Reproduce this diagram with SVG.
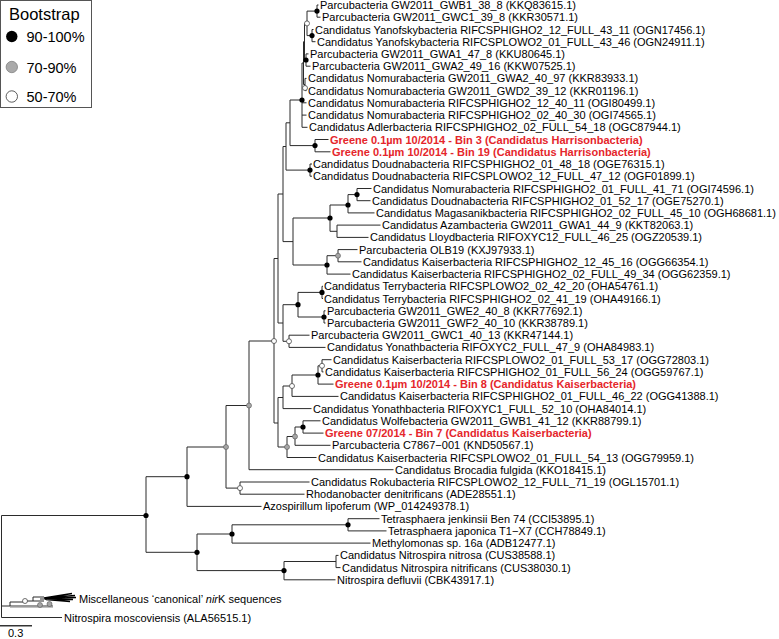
<svg xmlns="http://www.w3.org/2000/svg" width="779" height="639" viewBox="0 0 779 639">
<style>
.t{font-family:"Liberation Sans",Arial,sans-serif;font-size:11px;fill:#000}
.r{font-family:"Liberation Sans",Arial,sans-serif;font-size:11px;font-weight:bold;fill:#e5262b}
.e{fill:none;stroke:#2b2b2b;stroke-width:1}
.b{fill:#000}
.g{fill:#a6a6a6;stroke:#555;stroke-width:0.6}
.o{fill:#fff;stroke:#333;stroke-width:0.7}
.lg{font-family:"Liberation Sans",Arial,sans-serif;fill:#000}
</style>
<rect x="0.5" y="0.5" width="91" height="107" fill="#fff" stroke="#555" stroke-width="1"/>
<g id="legend">
<text class="lg" x="9" y="20" font-size="16.5">Bootstrap</text>
<circle cx="11.8" cy="36.5" r="5.7" fill="#000"/>
<text class="lg" x="26.5" y="42" font-size="14.5">90-100%</text>
<circle cx="11.8" cy="67" r="5.7" fill="#aaa" stroke="#777" stroke-width="0.7"/>
<text class="lg" x="26.5" y="72.5" font-size="14.5">70-90%</text>
<circle cx="11.8" cy="96.5" r="5.7" fill="#fff" stroke="#333" stroke-width="0.8"/>
<text class="lg" x="26.5" y="102" font-size="14.5">50-70%</text>
</g>
<g id="connectors">
<path class="e" d="M317 5V17.2M317 5H318.5M317 17.2H320.5
M312 29.5V41.7M312 29.5H313.5M312 41.7H315.5
M307 11.1V35.6M307 11.1H317M307 35.6H312
M306 53.9V66.2M306 53.9H308.5M306 66.2H310.5
M304.5 23.4V60M304.5 23.4H307M304.5 60H306
M305 78.4V90.6M305 78.4H306.5M305 90.6H306.5
M303.5 41.7V84.5M303.5 41.7H304.5M303.5 84.5H305
M302 63V127.3M302 63H303.5M302 102.8H306.5M302 115.1H306.5M302 127.3H307.5
M290 100V145.6M290 100H302M290 145.6H315
M315 139.5V151.8M315 139.5H328.5M315 151.8H330.5
M310 164V176.2M310 164H312M310 176.2H312
M286 122.8V170.1M286 122.8H290M286 170.1H310
M283 146.5V241.6M283 146.5H286M283 241.6H293
M293 218V265M293 218H330M293 265H327
M330 205V231.3M330 205H348M330 231.3H337
M348 194.6V212.9M348 194.6H357M348 212.9H374.5
M357 188.5V200.7M357 188.5H371.5M357 200.7H370.5
M337 225.1V237.4M337 225.1H380.5M337 237.4H368.5
M327 255.7V274.1M327 255.7H338M327 274.1H350.5
M338 249.6V261.8M338 249.6H357.5M338 261.8H361.5
M322 286.3V298.5M322 286.3H323M322 298.5H323
M324 310.8V323M324 310.8H325.5M324 323H325.5
M298 292.4V317M298 292.4H322M298 317H324
M289 335.2V347.4M289 335.2H309.5M289 347.4H325.5
M283 304.7V341.3M283 304.7H298M283 341.3H289
M278 194V323M278 194H283M278 323H283
M274 258.5V423M274 258.5H278M274 423H278
M278 397.5V447M278 397.5H283M278 447H287
M283 386V408.6M283 386H292M283 408.6H311.5
M292 375V396.4M292 375H318M292 396.4H338.5
M318 365.8V384.1M318 365.8H322M318 384.1H333.5
M322 359.7V371.9M322 359.7H331.5M322 371.9H323.5
M287 436.5V457.5M287 436.5H295M287 457.5H316.5
M295 427V445.3M295 427H303M295 445.3H330.5
M303 420.8V433.1M303 420.8H320.5M303 433.1H323.5
M249 341V469.7M249 341H274M249 469.7H393.5
M240 482V494.2M240 482H309.5M240 494.2H304.5
M226 405.5V488.1M226 405.5H249M226 488.1H240
M187 447V506.4M187 447H226M187 506.4H261.5
M348 518.7V530.9M348 518.7H379.5M348 530.9H386.5
M232 524.8V543.1M232 524.8H348M232 543.1H370.5
M336 555.4V567.6M336 555.4H338.5M336 567.6H340.5
M284 561.5V579.8M284 561.5H336M284 579.8H335.5
M197 534V570.6M197 534H232M197 570.6H284
M146 476.7V552.3M146 476.7H187M146 552.3H197
M1.5 515.5V617.5M1.5 515.5H146M1.5 606H10M1.5 617.5H62"/>
<path d="M0 625.8H32" stroke="#000" stroke-width="1.2"/>
</g>
<g id="nirK-clade">
<rect x="10" y="605" width="43" height="2.6" fill="#999"/>
<path class="e" d="M10 606V602H25M25 601H33M33 597V601M33 597H44M33 601H44M40 599H47"/>
<path d="M44 598L72 593.5M44 598L75 595.5M45 598.5L76 597.5M45 599L73 599.5M46 599.5L70 601.5" stroke="#000" stroke-width="1.3" fill="none"/>
<circle class="o" cx="25" cy="601" r="2.5"/>
<circle class="g" cx="40" cy="605" r="2.5"/>
<circle class="g" cx="49.5" cy="604" r="2.5"/>
</g>
<g id="internal-nodes">
<circle class="b" cx="317" cy="11.1" r="2.6"/>
<circle class="b" cx="312" cy="35.6" r="2.6"/>
<circle class="o" cx="307" cy="23.4" r="2.5"/>
<circle class="b" cx="306" cy="60" r="2.6"/>
<circle class="o" cx="305" cy="88" r="2.5"/>
<circle class="b" cx="302" cy="100" r="2.6"/>
<circle class="b" cx="315" cy="145.6" r="2.6"/>
<circle class="b" cx="310" cy="170.1" r="2.6"/>
<circle class="b" cx="330" cy="218" r="2.6"/>
<circle class="b" cx="348" cy="205" r="2.6"/>
<circle class="b" cx="357" cy="194.6" r="2.6"/>
<circle class="g" cx="338" cy="255.7" r="2.5"/>
<circle class="b" cx="327" cy="265" r="2.6"/>
<circle class="b" cx="322" cy="292.4" r="2.6"/>
<circle class="b" cx="324" cy="317" r="2.6"/>
<circle class="b" cx="298" cy="304.7" r="2.6"/>
<circle class="o" cx="289" cy="341.3" r="2.5"/>
<circle class="o" cx="274" cy="341" r="2.5"/>
<circle class="o" cx="322" cy="365.8" r="2.5"/>
<circle class="b" cx="318" cy="375" r="2.6"/>
<circle class="o" cx="292" cy="386" r="2.5"/>
<circle class="b" cx="303" cy="427" r="2.6"/>
<circle class="g" cx="295" cy="436.5" r="2.5"/>
<circle class="g" cx="287" cy="447" r="2.5"/>
<circle class="g" cx="249" cy="405.5" r="2.5"/>
<circle class="o" cx="240" cy="488.1" r="2.5"/>
<circle class="g" cx="226" cy="447" r="2.5"/>
<circle class="b" cx="187" cy="476.7" r="2.6"/>
<circle class="b" cx="146" cy="515.5" r="2.6"/>
<circle class="b" cx="348" cy="524.8" r="2.6"/>
<circle class="b" cx="232" cy="534" r="2.6"/>
<circle class="b" cx="284" cy="570.6" r="2.6"/>
<circle class="b" cx="197" cy="552.3" r="2.6"/>
</g>
<g id="leaves">
<text id="l1" class="t" x="320" y="9">Parcubacteria GW2011_GWB1_38_8 (KKQ83615.1)</text>
<text id="l2" class="t" x="322" y="21.2">Parcubacteria GW2011_GWC1_39_8 (KKR30571.1)</text>
<text id="l3" class="t" x="315" y="33.5">Candidatus Yanofskybacteria RIFCSPHIGHO2_12_FULL_43_11 (OGN17456.1)</text>
<text id="l4" class="t" x="317" y="45.7">Candidatus Yanofskybacteria RIFCSPLOWO2_01_FULL_43_46 (OGN24911.1)</text>
<text id="l5" class="t" x="310" y="57.9">Parcubacteria GW2011_GWA1_47_8 (KKU80645.1)</text>
<text id="l6" class="t" x="312" y="70.2">Parcubacteria GW2011_GWA2_49_16 (KKW07525.1)</text>
<text id="l7" class="t" x="308" y="82.4">Candidatus Nomurabacteria GW2011_GWA2_40_97 (KKR83933.1)</text>
<text id="l8" class="t" x="308" y="94.6">Candidatus Nomurabacteria GW2011_GWD2_39_12 (KKR01196.1)</text>
<text id="l9" class="t" x="308" y="106.8">Candidatus Nomurabacteria RIFCSPHIGHO2_12_40_11 (OGI80499.1)</text>
<text id="l10" class="t" x="308" y="119.1">Candidatus Nomurabacteria RIFCSPHIGHO2_02_40_30 (OGI74565.1)</text>
<text id="l11" class="t" x="309" y="131.3">Candidatus Adlerbacteria RIFCSPHIGHO2_02_FULL_54_18 (OGC87944.1)</text>
<text id="l12" class="r" x="330" y="143.5">Greene 0.1µm 10/2014 - Bin 3 (Candidatus Harrisonbacteria)</text>
<text id="l13" class="r" x="332" y="155.8">Greene 0.1µm 10/2014 - Bin 19 (Candidatus Harrisonbacteria)</text>
<text id="l14" class="t" x="313" y="168">Candidatus Doudnabacteria RIFCSPHIGHO2_01_48_18 (OGE76315.1)</text>
<text id="l15" class="t" x="313" y="180.2">Candidatus Doudnabacteria RIFCSPLOWO2_12_FULL_47_12 (OGF01899.1)</text>
<text id="l16" class="t" x="373" y="192.5">Candidatus Nomurabacteria RIFCSPHIGHO2_01_FULL_41_71 (OGI74596.1)</text>
<text id="l17" class="t" x="372" y="204.7">Candidatus Doudnabacteria RIFCSPHIGHO2_01_52_17 (OGE75270.1)</text>
<text id="l18" class="t" x="376" y="216.9">Candidatus Magasanikbacteria RIFCSPHIGHO2_02_FULL_45_10 (OGH68681.1)</text>
<text id="l19" class="t" x="382" y="229.1">Candidatus Azambacteria GW2011_GWA1_44_9 (KKT82063.1)</text>
<text id="l20" class="t" x="370" y="241.4">Candidatus Lloydbacteria RIFOXYC12_FULL_46_25 (OGZ20539.1)</text>
<text id="l21" class="t" x="359" y="253.6">Parcubacteria OLB19 (KXJ97933.1)</text>
<text id="l22" class="t" x="363" y="265.8">Candidatus Kaiserbacteria RIFCSPHIGHO2_12_45_16 (OGG66354.1)</text>
<text id="l23" class="t" x="352" y="278.1">Candidatus Kaiserbacteria RIFCSPHIGHO2_02_FULL_49_34 (OGG62359.1)</text>
<text id="l24" class="t" x="324" y="290.3">Candidatus Terrybacteria RIFCSPLOWO2_02_42_20 (OHA54761.1)</text>
<text id="l25" class="t" x="324" y="302.5">Candidatus Terrybacteria RIFCSPHIGHO2_02_41_19 (OHA49166.1)</text>
<text id="l26" class="t" x="327" y="314.8">Parcubacteria GW2011_GWE2_40_8 (KKR77692.1)</text>
<text id="l27" class="t" x="327" y="327">Parcubacteria GW2011_GWF2_40_10 (KKR38789.1)</text>
<text id="l28" class="t" x="311" y="339.2">Parcubacteria GW2011_GWC1_40_13 (KKR47144.1)</text>
<text id="l29" class="t" x="327" y="351.4">Candidatus Yonathbacteria RIFOXYC2_FULL_47_9 (OHA84983.1)</text>
<text id="l30" class="t" x="333" y="363.7">Candidatus Kaiserbacteria RIFCSPLOWO2_01_FULL_53_17 (OGG72803.1)</text>
<text id="l31" class="t" x="325" y="375.9">Candidatus Kaiserbacteria RIFCSPHIGHO2_01_FULL_56_24 (OGG59767.1)</text>
<text id="l32" class="r" x="335" y="388.1">Greene 0.1µm 10/2014 - Bin 8 (Candidatus Kaiserbacteria)</text>
<text id="l33" class="t" x="340" y="400.4">Candidatus Kaiserbacteria RIFCSPHIGHO2_01_FULL_46_22 (OGG41388.1)</text>
<text id="l34" class="t" x="313" y="412.6">Candidatus Yonathbacteria RIFOXYC1_FULL_52_10 (OHA84014.1)</text>
<text id="l35" class="t" x="322" y="424.8">Candidatus Wolfebacteria GW2011_GWB1_41_12 (KKR88799.1)</text>
<text id="l36" class="r" x="325" y="437.1">Greene 07/2014 - Bin 7 (Candidatus Kaiserbacteria)</text>
<text id="l37" class="t" x="332" y="449.3">Parcubacteria C7867−001 (KND50567.1)</text>
<text id="l38" class="t" x="318" y="461.5">Candidatus Kaiserbacteria RIFCSPLOWO2_01_FULL_54_13 (OGG79959.1)</text>
<text id="l39" class="t" x="395" y="473.7">Candidatus Brocadia fulgida (KKO18415.1)</text>
<text id="l40" class="t" x="311" y="486">Candidatus Rokubacteria RIFCSPLOWO2_12_FULL_71_19 (OGL15701.1)</text>
<text id="l41" class="t" x="306" y="498.2">Rhodanobacter denitrificans (ADE28551.1)</text>
<text id="l42" class="t" x="263" y="510.4">Azospirillum lipoferum (WP_014249378.1)</text>
<text id="l43" class="t" x="381" y="522.7">Tetrasphaera jenkinsii Ben 74 (CCI53895.1)</text>
<text id="l44" class="t" x="388" y="534.9">Tetrasphaera japonica T1−X7 (CCH78849.1)</text>
<text id="l45" class="t" x="372" y="547.1">Methylomonas sp. 16a (ADB12477.1)</text>
<text id="l46" class="t" x="340" y="559.4">Candidatus Nitrospira nitrosa (CUS38588.1)</text>
<text id="l47" class="t" x="342" y="571.6">Candidatus Nitrospira nitrificans (CUS38030.1)</text>
<text id="l48" class="t" x="337" y="583.8">Nitrospira defluvii (CBK43917.1)</text>
<text id="l49" class="t" x="79" y="603">Miscellaneous ‘canonical’ <tspan font-style="italic">nir</tspan>K sequences</text>
<text id="l50" class="t" x="64" y="621.5">Nitrospira moscoviensis (ALA56515.1)</text>
<text id="scale" class="t" x="8" y="637">0.3</text>
</g>
</svg>
